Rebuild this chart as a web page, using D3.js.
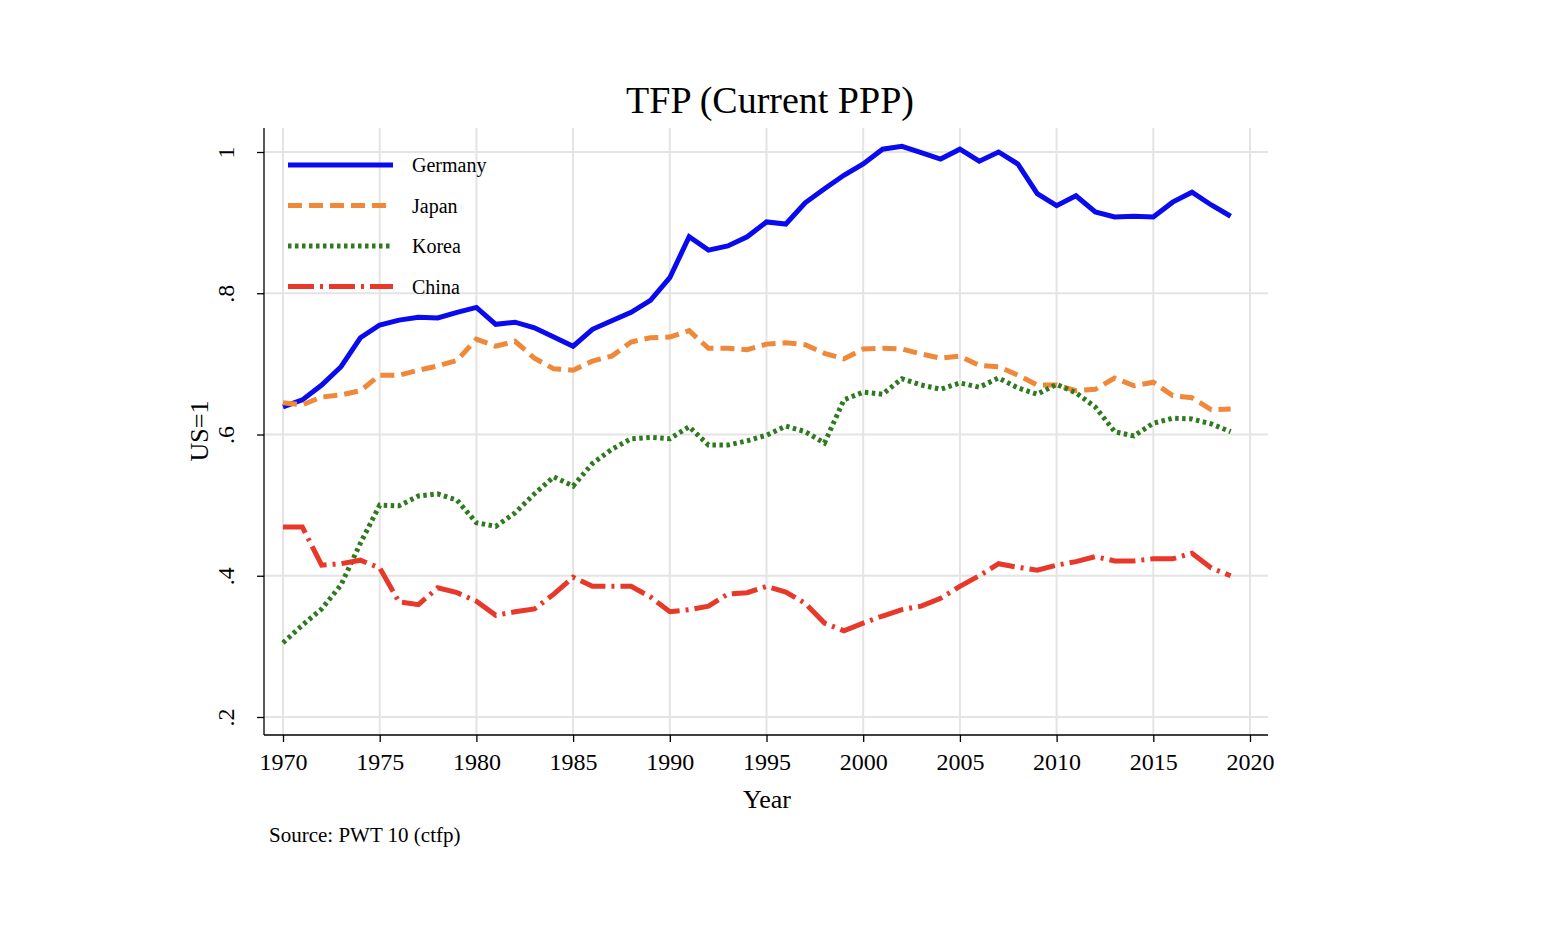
<!DOCTYPE html>
<html><head><meta charset="utf-8">
<script src="https://cdn.jsdelivr.net/npm/d3@7"></script>
<style>body{margin:0;background:#fff}</style>
</head><body>
<svg id="c" width="1562" height="950"></svg>
<script>
/* ============================
   DATA
============================ */
const years = d3.range(1970, 2020);
const germany = [.639,.649,.670,.696,.737,.755,.762,.766,.765,.773,.780,.756,.759,.751,.738,.725,.749,.761,.773,.790,
  .822,.880,.861,.867,.880,.901,.898,.928,.948,.967,.983,1.004,1.008,.999,.990,1.004,.987,1.0,.983,.941,
  .924,.938,.915,.908,.909,.908,.929,.943,.925,.909];
const japan = [.645,.642,.653,.656,.662,.684,.684,.691,.697,.705,.735,.725,.732,.708,.693,.691,.704,.711,.731,.737,
  .738,.747,.722,.722,.720,.728,.730,.727,.715,.707,.721,.722,.721,.714,.708,.711,.698,.696,.684,.670,
  .670,.662,.664,.680,.669,.674,.655,.652,.635,.636];
const korea = [.305,.330,.353,.387,.446,.500,.499,.513,.516,.507,.475,.470,.489,.516,.540,.527,.559,.579,.594,.596,
  .594,.611,.585,.585,.591,.599,.612,.604,.588,.649,.660,.657,.679,.670,.664,.673,.667,.680,.666,.657,
  .671,.659,.639,.604,.598,.616,.623,.622,.615,.604];
const china = [.469,.469,.415,.417,.422,.411,.363,.359,.383,.376,.364,.344,.349,.353,.374,.398,.385,.385,.385,.370,
  .349,.352,.357,.374,.376,.385,.377,.361,.333,.322,.333,.343,.352,.357,.368,.385,.400,.417,.412,.408,
  .415,.420,.427,.421,.421,.424,.424,.432,.411,.400];
const xTicks = d3.range(1970, 2021, 5);
const yTicks = [.2, .4, .6, .8, 1];
const yTickLabels = [".2", ".4", ".6", ".8", "1"];

const series = [
  {name: "Germany", vals: germany, color: "#0a0aef", dash: null},
  {name: "Japan",   vals: japan,   color: "#f0883a", dash: "14 7"},
  {name: "Korea",   vals: korea,   color: "#2e7a1f", dash: "3.5 3.5"},
  {name: "China",   vals: china,   color: "#e8382a", dash: "26 6 3 6"}
];

/* ============================
   CHART
============================ */
const FONT = "'Liberation Serif', 'Times New Roman', serif";
const svg = d3.select("#c").style("font-family", FONT);
const L = 264, R = 1268, T = 128, B = 735;

const x = d3.scaleLinear().domain([1970, 2020]).range([283, 1250]);
const y = d3.scaleLinear().domain([.2, 1]).range([717, 152]);

// grid
svg.append("g").selectAll("line").data(yTicks).join("line")
  .attr("x1", L).attr("x2", R).attr("y1", d => y(d)).attr("y2", d => y(d))
  .attr("stroke", "#e4e4e4").attr("stroke-width", 2);
svg.append("g").selectAll("line").data(xTicks).join("line")
  .attr("x1", d => x(d)).attr("x2", d => x(d)).attr("y1", T).attr("y2", B)
  .attr("stroke", "#e4e4e4").attr("stroke-width", 2);

// axes
const xAxis = svg.append("g").attr("transform", `translate(0,${B})`)
  .call(d3.axisBottom(x).tickValues(xTicks).tickFormat(d3.format("d")).tickSize(7).tickSizeOuter(0));
const yAxis = svg.append("g").attr("transform", `translate(${L},0)`)
  .call(d3.axisLeft(y).tickValues(yTicks).tickFormat((d, i) => yTickLabels[i]).tickSize(7).tickSizeOuter(0));
[xAxis, yAxis].forEach(a => {
  a.select(".domain").remove();
  a.selectAll("line").attr("stroke", "#000").attr("stroke-width", 1.3);
  a.selectAll("text").attr("font-family", FONT).attr("font-size", 24).attr("fill", "#000");
});
xAxis.selectAll("text").attr("dy", "1.05em");
yAxis.selectAll("text")
  .attr("text-anchor", "middle").attr("dy", null).attr("x", null)
  .attr("transform", "translate(-22,0) rotate(-90) translate(0,-8)")
  .attr("dominant-baseline", "auto");
svg.append("line").attr("x1", L).attr("x2", L).attr("y1", T).attr("y2", B).attr("stroke", "#000").attr("stroke-width", 1.3);
svg.append("line").attr("x1", L).attr("x2", R).attr("y1", B).attr("y2", B).attr("stroke", "#000").attr("stroke-width", 1.3);

// lines
const line = d3.line().x((d, i) => x(years[i])).y(d => y(d));
series.forEach(s => {
  svg.append("path").datum(s.vals).attr("d", line)
    .attr("fill", "none").attr("stroke", s.color).attr("stroke-width", 5)
    .attr("stroke-dasharray", s.dash);
});

// legend
series.forEach((s, i) => {
  const ly = 165 + i * 40.5;
  svg.append("line").attr("x1", 288).attr("x2", 393).attr("y1", ly).attr("y2", ly)
    .attr("stroke", s.color).attr("stroke-width", 5).attr("stroke-dasharray", s.dash);
  svg.append("text").attr("x", 412).attr("y", ly + 7).attr("font-size", 20).text(s.name);
});

// titles
svg.append("text").attr("x", 770).attr("y", 113).attr("text-anchor", "middle").attr("font-size", 38).text("TFP (Current PPP)");
svg.append("text").attr("x", 767).attr("y", 808).attr("text-anchor", "middle").attr("font-size", 26).text("Year");
svg.append("text").attr("transform", "translate(208,431) rotate(-90)").attr("text-anchor", "middle").attr("font-size", 26).text("US=1");
svg.append("text").attr("x", 269).attr("y", 842).attr("font-size", 21).text("Source: PWT 10 (ctfp)");
</script>
</body></html>
